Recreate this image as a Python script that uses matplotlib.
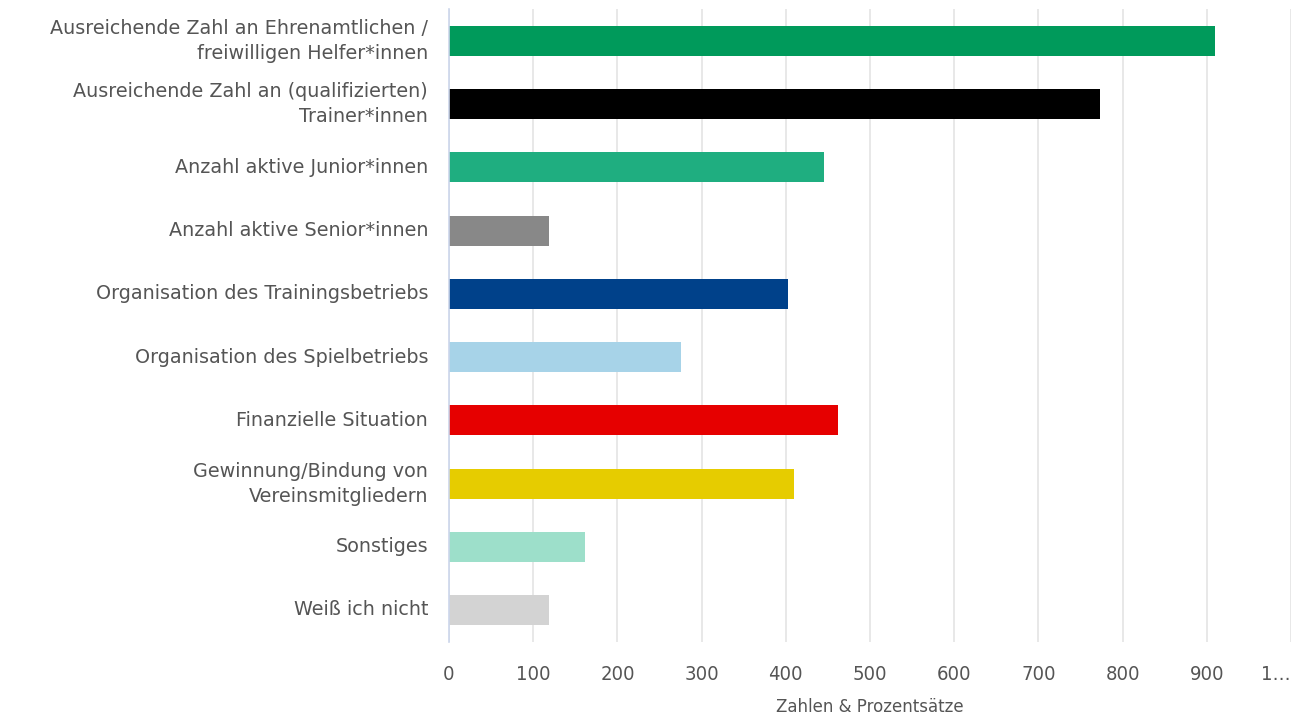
import matplotlib
matplotlib.use("Agg")
import matplotlib.pyplot as plt

categories = [
    "Ausreichende Zahl an Ehrenamtlichen /\nfreiwilligen Helfer*innen",
    "Ausreichende Zahl an (qualifizierten)\nTrainer*innen",
    "Anzahl aktive Junior*innen",
    "Anzahl aktive Senior*innen",
    "Organisation des Trainingsbetriebs",
    "Organisation des Spielbetriebs",
    "Finanzielle Situation",
    "Gewinnung/Bindung von\nVereinsmitgliedern",
    "Sonstiges",
    "Weiß ich nicht",
]
values = [910, 773, 445, 119, 403, 275, 462, 410, 161, 119]
colors = ["#009a5b", "#000000", "#1fae80", "#888888", "#00418a",
          "#a7d3e8", "#e60000", "#e6cc00", "#9ddfca", "#d3d3d3"]
xticks = [0, 100, 200, 300, 400, 500, 600, 700, 800, 900, 1000]
xticklabels = ["0", "100", "200", "300", "400", "500", "600", "700", "800", "900", "1…"]
xlabel = "Zahlen & Prozentsätze"

fig = plt.figure(figsize=(12.95, 7.2), dpi=100)
ax = fig.add_axes([449/1295, 1-641.6/720, (1291-449)/1295, (641.6-9.4)/720])

ypos = list(range(len(categories)))
ax.barh(ypos, values, height=0.475, color=colors, zorder=3)
ax.set_ylim(len(categories)-0.5, -0.5)
ax.set_xlim(0, 1000)

ax.set_yticks(ypos)
ax.set_yticklabels(categories, fontsize=13.8, color="#555555",
                   family="DejaVu Sans", linespacing=1.4)
ax.set_xticks(xticks)
ax.set_xticklabels(xticklabels, fontsize=14.5, color="#555555",
                   family="DejaVu Sans", fontstretch="condensed")
ax.tick_params(axis="y", length=0, pad=15)
ax.tick_params(axis="x", length=0, pad=17)
for lbl in ax.get_yticklabels():
    lbl.set_horizontalalignment("right")
    lbl.set_multialignment("right")
    lbl.set_verticalalignment("center")
ax.get_xticklabels()[-1].set_horizontalalignment("right")

ax.grid(axis="x", color="#e6e6e6", linewidth=1.3, zorder=0)
ax.grid(axis="y", visible=False)
for s in ["top", "right", "bottom"]:
    ax.spines[s].set_visible(False)
ax.spines["left"].set_color("#ccd6eb")
ax.spines["left"].set_linewidth(1.2)
ax.spines["left"].set_zorder(4)

ax.set_xlabel(xlabel, fontsize=12, color="#555555", family="DejaVu Sans", labelpad=10)

fig.savefig("out.png", dpi=100)
